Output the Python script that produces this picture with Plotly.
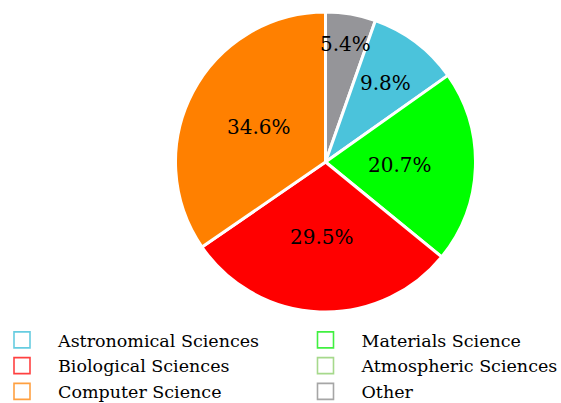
import math
import plotly.graph_objects as go

# Data
categories = ["Astronomical Sciences", "Biological Sciences", "Computer Science",
              "Materials Science", "Atmospheric Sciences", "Other"]
values = [9.8, 29.5, 34.6, 20.7, 0.0, 5.4]
colors = ["#4BC3DB", "#FF0000", "#FF8000", "#00FF00", "#A8DC8C", "#959599"]
legend_colors = ["rgba(75,195,219,0.85)", "rgba(255,0,0,0.75)", "rgba(255,128,0,0.75)",
                 "rgba(0,235,0,0.75)", "rgba(150,210,120,0.85)", "rgba(150,150,150,0.85)"]
# slice order around the pie (clockwise from 12 o'clock)
pie_order = ["Other", "Astronomical Sciences", "Materials Science",
             "Biological Sciences", "Atmospheric Sciences", "Computer Science"]

W, H = 561, 403
FONT = "DejaVu Serif"
CX, CY, R = 325.5, 162.0, 150.0  # pie centre / radius in pixels

idx = [categories.index(c) for c in pie_order if values[categories.index(c)] > 0]
pie_labels = [categories[i] for i in idx]
pie_values = [values[i] for i in idx]
total = sum(pie_values)

fig = go.Figure()
fig.add_trace(go.Pie(
    labels=pie_labels,
    values=pie_values,
    marker=dict(colors=[colors[i] for i in idx], line=dict(color="white", width=3)),
    sort=False, direction="clockwise", rotation=0,
    textinfo="none",
    showlegend=False, hoverinfo="label+percent",
    domain=dict(x=[(CX - R) / W, (CX + R) / W], y=[1 - (CY + R) / H, 1 - (CY - R) / H]),
))

# percentage labels, placed from the cumulative values
cum = 0.0
for v in pie_values:
    pct = 100.0 * v / total
    mid = math.radians((cum + v / 2.0) / total * 360.0)
    cum += v
    frac = 0.5 if pct >= 15 else 0.5 + 0.031 * (15 - pct)
    px = CX + frac * R * math.sin(mid)
    py = CY - frac * R * math.cos(mid)
    fig.add_annotation(
        x=px / W, y=1 - py / H, xref="paper", yref="paper",
        text=f"{pct:.1f}%", showarrow=False, xanchor="center", yanchor="middle",
        font=dict(family=FONT, size=20, color="black"),
    )

for k, (name, lc) in enumerate(zip(categories, legend_colors)):
    fig.add_trace(go.Scatter(
        x=[None], y=[None], mode="markers", name=name,
        marker=dict(symbol="square-open", size=16, color=lc, line=dict(width=1.6, color=lc)),
        legend="legend" if k < 3 else "legend2",
        showlegend=True, hoverinfo="skip",
    ))

legend_common = dict(
    font=dict(family=FONT, size=17.5, color="black"),
    bgcolor="rgba(0,0,0,0)", borderwidth=0,
    orientation="v", itemwidth=62,
    xanchor="left", yanchor="top",
)
fig.update_layout(
    width=W, height=H,
    margin=dict(l=0, r=0, t=0, b=0, autoexpand=False),
    paper_bgcolor="white", plot_bgcolor="white",
    xaxis=dict(visible=False), yaxis=dict(visible=False),
    legend=dict(x=-14 / W, y=1 - 322 / H, **legend_common),
    legend2=dict(x=289.5 / W, y=1 - 322 / H, **legend_common),
)

fig.write_html("out.html")
